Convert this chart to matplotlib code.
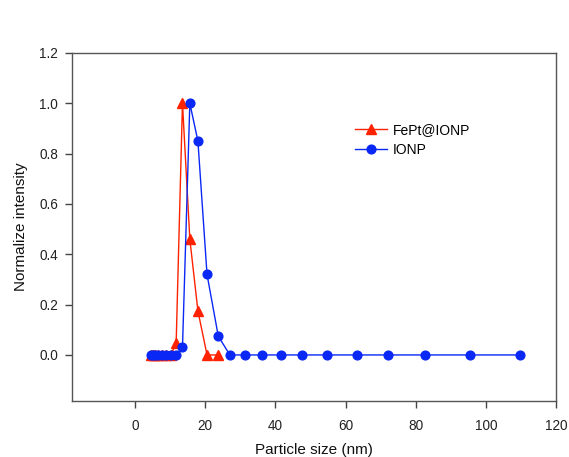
import matplotlib
matplotlib.use("Agg")
import matplotlib.pyplot as plt

plt.rcParams['font.family'] = ['Liberation Sans', 'DejaVu Sans']

# Particle size bins (nm)
size_bins = [4.4, 5.0, 5.8, 6.6, 7.6, 8.8, 10.2, 11.7, 13.5, 15.6, 17.9, 20.5,
             23.7, 27.0, 31.3, 36.1, 41.6, 47.6, 54.7, 63.3, 72.1, 82.7, 95.6, 109.6]

fept_x = size_bins[:13]
fept_y = [0, 0, 0, 0, 0, 0, 0, 0.048, 1.0, 0.46, 0.175, 0.0, 0.0]

ionp_x = size_bins
ionp_y = [0, 0, 0, 0, 0, 0, 0, 0, 0.03, 1.0, 0.85, 0.32, 0.075,
          0, 0, 0, 0, 0, 0, 0, 0, 0, 0, 0]

xticks = [0, 20, 40, 60, 80, 100, 120]
yticks = [0.0, 0.2, 0.4, 0.6, 0.8, 1.0, 1.2]

fig = plt.figure(figsize=(5.69, 4.57), dpi=100)
ax = fig.add_axes([72/569, 1-401/457, (556-72)/569, (401-53)/457])

red = '#FF2200'
blue = '#0A28F5'
ax.plot(fept_x, fept_y, color=red, lw=1.0, marker='^', ms=6.5, mec=red, mfc=red,
        label='FePt@IONP', zorder=3)
ax.plot(ionp_x, ionp_y, color=blue, lw=1.0, marker='o', ms=6.3, mec=blue, mfc=blue,
        label='IONP', zorder=4)

ax.set_xlim(-18, 120)
ax.set_ylim(-0.183, 1.2)
ax.set_xticks(xticks)
ax.set_xticklabels([str(t) for t in xticks])
ax.set_yticks(yticks)
ax.set_yticklabels([f"{t:.1f}" for t in yticks])
ax.tick_params(axis='both', direction='out', length=5, width=1, color='#444444',
               labelsize=9.8, labelcolor='#222222')
ax.tick_params(axis='x', pad=8)
ax.tick_params(axis='y', pad=5)
for s in ax.spines.values():
    s.set_color('#555555')
    s.set_linewidth(1.0)

ax.set_xlabel('Particle size (nm)', fontsize=11, color='#111111', labelpad=7)
ax.set_ylabel('Normalize intensity', fontsize=11, color='#111111', labelpad=8)

leg = ax.legend(loc='upper left', bbox_to_anchor=(0.585, 0.80), frameon=False,
                fontsize=10, handlelength=2.3, handletextpad=0.4,
                labelspacing=0.45, borderaxespad=0, borderpad=0)

fig.savefig('out.png', dpi=100, facecolor='white')
